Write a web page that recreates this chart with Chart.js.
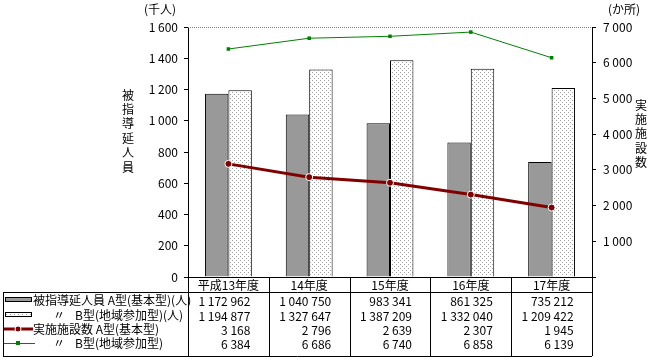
<!DOCTYPE html>
<html>
<head>
<meta charset="utf-8">
<script src="https://cdn.jsdelivr.net/npm/chart.js@4"></script>
<style>
  body { margin: 0; background: #fff; }
  canvas { display: block; }
</style>
</head>
<body>
<canvas id="chart" width="650" height="360"></canvas>
<script>
// 年度
const categories = ["平成13年度", "14年度", "15年度", "16年度", "17年度"];
// 被指導延人員（人）
const peopleA = [1172962, 1040750, 983341, 861325, 735212];
const peopleB = [1194877, 1327647, 1387209, 1332040, 1209422];
// 実施施設数（か所）
const facilitiesA = [3168, 2796, 2639, 2307, 1945];
const facilitiesB = [6384, 6686, 6740, 6858, 6139];

const rowLabels = [
    ["被指導延人員 A型(基本型)(人)"],
    ["〃", "B型(地域参加型)(人)"],
    ["実施施設数 A型(基本型)"],
    ["〃", "B型(地域参加型)"]
];

function fmt(n) {
    return String(n).replace(/\B(?=(\d{3})+(?!\d))/g, " ");
}

// 点描パターン
function dotPattern() {
    const c = document.createElement("canvas");
    c.width = 4; c.height = 4;
    const g = c.getContext("2d");
    g.fillStyle = "#fff";
    g.fillRect(0, 0, 4, 4);
    g.fillStyle = "#a0a0a0";
    g.fillRect(0, 0, 1, 1);
    g.fillRect(2, 2, 1, 1);
    return g.createPattern(c, "repeat");
}

const FONT = '"Noto Sans CJK JP", "Noto Sans", sans-serif';
Chart.defaults.font.family = FONT;
Chart.defaults.font.size = 12;
Chart.defaults.color = "#000";

const ctx = document.getElementById("chart").getContext("2d");
const dots = dotPattern();

const colors = {
    barA: "#999999",
    lineA: "#800000",
    lineB: "#008000"
};

const extras = {
    id: "extras",
    afterDraw(chart) {
        const c = chart.ctx;
        const a = chart.chartArea;
        const x = chart.scales.x;
        const n = categories.length;
        const w = (a.right - a.left) / n;
        c.save();

        // 上端の点線
        c.strokeStyle = "#808080";
        c.setLineDash([1, 1]);
        c.beginPath();
        c.moveTo(a.left, a.top + 0.5);
        c.lineTo(a.right, a.top + 0.5);
        c.stroke();
        c.setLineDash([]);

        // 単位と軸タイトル
        c.fillStyle = "#000";
        c.font = "12px " + FONT;
        c.textBaseline = "middle";
        c.textAlign = "center";
        c.fillText("(千人)", 160, 9);
        c.fillText("(か所)", 624, 9);
        "被指導延人員".split("").forEach((ch, i) => c.fillText(ch, 128, 95 + i * 14.4));
        "実施施設数".split("").forEach((ch, i) => c.fillText(ch, 641, 105 + i * 14.4));

        // 年度ラベル
        categories.forEach((lab, i) => c.fillText(lab, x.getPixelForValue(i), a.bottom + 8));

        // データ表の罫線
        const top = 292, bottom = 356, left = 3;
        c.strokeStyle = "#000";
        c.lineWidth = 1;
        c.beginPath();
        c.moveTo(left, top + 0.5); c.lineTo(a.right, top + 0.5);
        c.moveTo(left, bottom + 0.5); c.lineTo(a.right, bottom + 0.5);
        c.moveTo(left + 0.5, top); c.lineTo(left + 0.5, bottom);
        for (let i = 0; i <= n; i++) {
            const px = Math.round(a.left + i * w) + 0.5;
            c.moveTo(px, a.bottom); c.lineTo(px, bottom);
        }
        c.stroke();

        const rows = [300, 315, 329, 343];

        // 凡例の記号
        c.fillStyle = colors.barA;
        c.fillRect(5, rows[0] - 2, 26, 4);
        c.strokeRect(5.5, rows[0] - 2.5, 26, 4);
        c.fillStyle = dots;
        c.fillRect(5, rows[1] - 2, 26, 4);
        c.strokeRect(5.5, rows[1] - 2.5, 26, 4);

        c.strokeStyle = colors.lineA;
        c.lineWidth = 3;
        c.beginPath(); c.moveTo(4, rows[2]); c.lineTo(33, rows[2]); c.stroke();
        c.fillStyle = colors.lineA;
        c.strokeStyle = "#fff";
        c.lineWidth = 1;
        c.beginPath(); c.arc(18, rows[2], 3, 0, Math.PI * 2); c.fill(); c.stroke();

        c.strokeStyle = colors.lineB;
        c.beginPath(); c.moveTo(4, rows[3] + 0.5); c.lineTo(35, rows[3] + 0.5); c.stroke();
        c.fillStyle = colors.lineB;
        c.fillRect(16, rows[3] - 2, 4, 4);

        // 行見出し
        c.fillStyle = "#000";
        c.textAlign = "left";
        rowLabels.forEach((parts, r) => {
            if (parts.length === 1) {
                c.fillText(parts[0], 33, rows[r]);
            } else {
                c.fillText(parts[0], 53, rows[r]);
                c.fillText(parts[1], 75, rows[r]);
            }
        });

        // 数値
        c.textAlign = "right";
        const series = [peopleA, peopleB, facilitiesA, facilitiesB];
        series.forEach((vals, r) => {
            vals.forEach((v, i) => {
                const cx = x.getPixelForValue(i);
                c.fillText(fmt(v), cx + 22, rows[r] + 1);
            });
        });
        c.restore();
    }
};

const chart = new Chart(ctx, {
    type: "bar",
    data: {
        labels: categories,
        datasets: [{
            type: "line",
            label: "実施施設数 A型(基本型)",
            data: facilitiesA,
            yAxisID: "y1",
            borderColor: colors.lineA,
            borderWidth: 3,
            pointRadius: 3.5,
            pointBackgroundColor: colors.lineA,
            pointBorderColor: "#fff",
            pointBorderWidth: 1,
            order: 0
        }, {
            type: "line",
            label: "〃 B型(地域参加型)",
            data: facilitiesB,
            yAxisID: "y1",
            borderColor: colors.lineB,
            borderWidth: 1,
            pointStyle: "rect",
            pointRadius: 2.5,
            pointBackgroundColor: colors.lineB,
            pointBorderColor: colors.lineB,
            pointBorderWidth: 0,
            order: 0
        }, {
            label: "被指導延人員 A型(基本型)(人)",
            data: peopleA.map(v => v / 1000),
            yAxisID: "y",
            backgroundColor: colors.barA,
            borderColor: "#000",
            borderWidth: 1,
            categoryPercentage: 0.58,
            barPercentage: 1,
            order: 1
        }, {
            label: "〃 B型(地域参加型)(人)",
            data: peopleB.map(v => v / 1000),
            yAxisID: "y",
            backgroundColor: dots,
            borderColor: "#000",
            borderWidth: 1,
            categoryPercentage: 0.58,
            barPercentage: 1,
            order: 1
        }]
    },
    options: {
        responsive: false,
        animation: false,
        layout: { padding: { left: 0, right: 0, top: 27, bottom: 68 } },
        plugins: {
            legend: { display: false },
            tooltip: { enabled: false }
        },
        scales: {
            x: {
                offset: true,
                grid: { display: false },
                border: { display: true, color: "#000" },
                ticks: { display: false },
                afterFit: s => { s.height = 15; }
            },
            y: {
                position: "left",
                min: 0,
                max: 1600,
                ticks: { stepSize: 200, padding: 6, callback: v => fmt(v) },
                grid: { drawOnChartArea: false, tickLength: 4, color: "#000" },
                border: { color: "#000" },
                afterFit: s => { s.width = 188; }
            },
            y1: {
                position: "right",
                min: 0,
                max: 7000,
                ticks: { stepSize: 1000, padding: 7, callback: v => v === 0 ? "" : fmt(v) },
                grid: { drawOnChartArea: false, tickLength: 4, color: "#000" },
                border: { color: "#000" },
                afterFit: s => { s.width = 58; }
            }
        }
    },
    plugins: [extras]
});
</script>
</body>
</html>
